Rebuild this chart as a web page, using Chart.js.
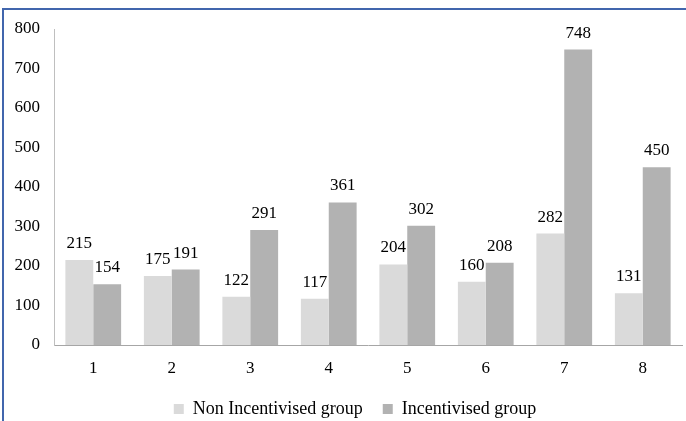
<!DOCTYPE html>
<html>
<head>
<meta charset="utf-8">
<script src="https://cdn.jsdelivr.net/npm/chart.js@4.4.0/dist/chart.umd.min.js"></script>
<style>
  html, body { margin: 0; padding: 0; background: #fff; }
  #wrap { position: relative; width: 686px; height: 421px; }
  #frame {
    position: absolute; left: 2px; top: 8px; right: 0; bottom: 0;
    border-top: 2px solid #4166ad; border-left: 2px solid #4166ad;
    pointer-events: none;
  }
</style>
</head>
<body>
<div id="wrap">
  <canvas id="bars" width="686" height="421"></canvas>
  <div id="frame"></div>
</div>
<script>
const categories = ['1', '2', '3', '4', '5', '6', '7', '8'];
const nonIncentivised = [215, 175, 122, 117, 204, 160, 282, 131];
const incentivised = [154, 191, 291, 361, 302, 208, 748, 450];
const yTicks = [0, 100, 200, 300, 400, 500, 600, 700, 800];

const serif = "'Liberation Serif', 'Times New Roman', serif";

// labels above each bar
const valueLabels = {
  id: 'valueLabels',
  afterDatasetsDraw(chart) {
    const ctx = chart.ctx;
    ctx.save();
    ctx.font = '17px ' + serif;
    ctx.fillStyle = '#000';
    ctx.textAlign = 'center';
    ctx.textBaseline = 'alphabetic';
    chart.data.datasets.forEach((ds, i) => {
      chart.getDatasetMeta(i).data.forEach((bar, j) => {
        ctx.fillText(String(ds.data[j]), bar.x, bar.y - 12);
      });
    });
    ctx.restore();
  }
};

// nudge the legend so it sits a bit right of the canvas centre, like the original
const legendShift = {
  id: 'legendShift',
  afterLayout(chart) {
    if (chart.legend) chart.legend.left = chart.chartArea.left - 26;
  }
};

const barsCtx = document.getElementById('bars').getContext('2d');

new Chart(barsCtx, {
  type: 'bar',
  data: {
    labels: categories,
    datasets: [{
      label: 'Non Incentivised group',
      data: nonIncentivised,
      backgroundColor: '#dadada',
      borderWidth: 0
    }, {
      label: 'Incentivised group',
      data: incentivised,
      backgroundColor: '#b2b2b2',
      borderWidth: 0
    }]
  },
  options: {
    responsive: false,
    animation: false,
    datasets: {
      bar: { categoryPercentage: 0.71, barPercentage: 1.0 }
    },
    layout: { padding: { left: 0, right: 4, top: 29, bottom: -7 } },
    plugins: {
      tooltip: { enabled: false },
      legend: {
        position: 'bottom',
        labels: {
          font: { family: serif, size: 18 },
          color: '#000',
          boxWidth: 10,
          boxHeight: 10,
          padding: 20
        }
      }
    },
    scales: {
      x: {
        grid: { display: false, drawTicks: false },
        border: { color: '#a6a6a6', width: 1 },
        ticks: {
          font: { family: serif, size: 17 },
          color: '#000',
          padding: 13
        },
        afterFit(s) { s.height = 35; }
      },
      y: {
        min: 0,
        max: 800,
        afterBuildTicks(s) { s.ticks = yTicks.map(v => ({ value: v })); },
        grid: { display: false, drawTicks: false },
        border: { color: '#bfbfbf', width: 1 },
        ticks: {
          font: { family: serif, size: 17 },
          color: '#000',
          padding: 14
        },
        afterFit(s) { s.width = 54; }
      }
    }
  },
  plugins: [valueLabels, legendShift]
});
</script>
</body>
</html>
